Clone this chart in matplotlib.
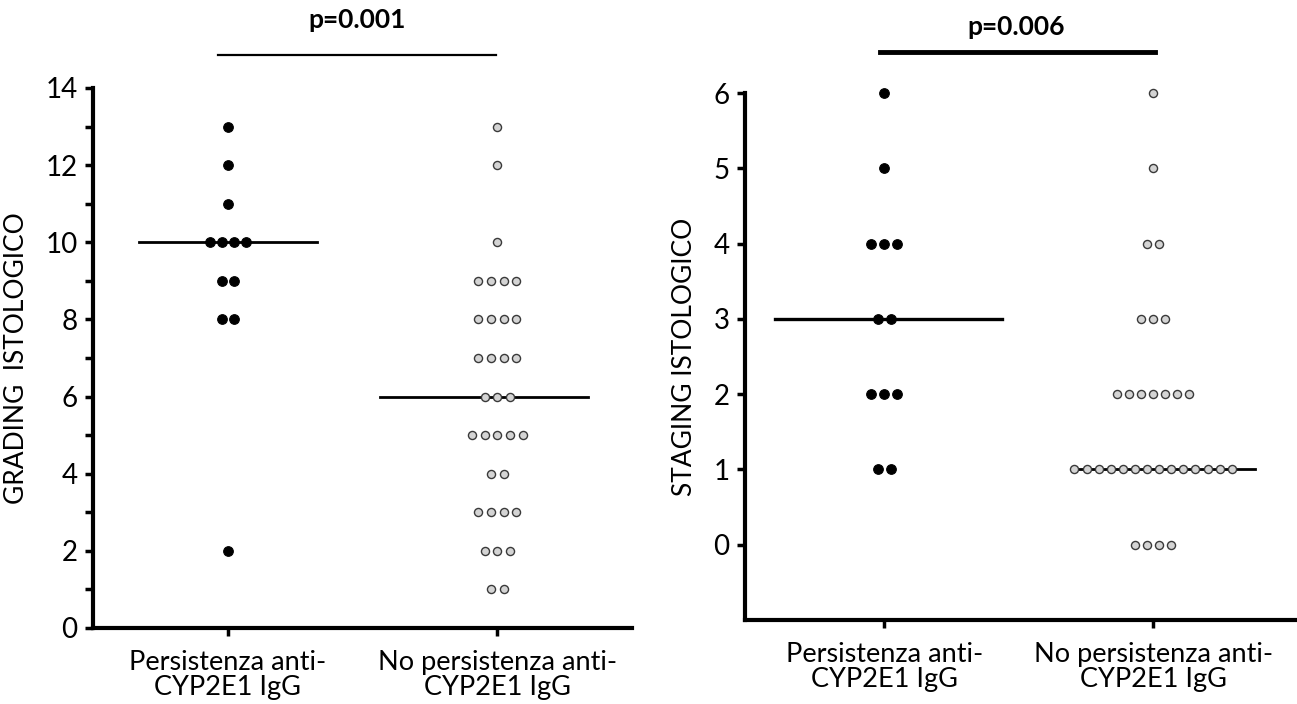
import matplotlib
matplotlib.use("Agg")
import matplotlib.pyplot as plt
import numpy as np

plt.rcParams['font.family'] = ['Lato', 'DejaVu Sans']

categories = ["Persistenza anti-\nCYP2E1 IgG", "No persistenza anti-\nCYP2E1 IgG"]

# Grading: value -> count
grading_pers_vals = [13, 12, 11, 10, 9, 8, 2]
grading_pers_cnt = [1, 1, 1, 4, 2, 2, 1]
grading_nopers_vals = [13, 12, 10, 9, 8, 7, 6, 5, 4, 3, 2, 1]
grading_nopers_cnt = [1, 1, 1, 4, 4, 4, 3, 5, 2, 4, 3, 2]
grading_medians = [10, 6]
grading_p = "p=0.001"

staging_pers_vals = [6, 5, 4, 3, 2, 1]
staging_pers_cnt = [1, 1, 3, 2, 3, 2]
staging_nopers_vals = [6, 5, 4, 3, 2, 1, 0]
staging_nopers_cnt = [1, 1, 2, 3, 7, 14, 4]
staging_medians = [3, 1]
staging_p = "p=0.006"

W, H = 1297, 704
fig = plt.figure(figsize=(W / 100, H / 100), dpi=100)

def px_axes(x0, x1, ytop, ybot):
    return fig.add_axes([x0 / W, (H - ybot) / H, (x1 - x0) / W, (ybot - ytop) / H])

ax1 = px_axes(93, 632, 88, 628)
ax2 = px_axes(745, 1297, 93, 620)

filled = dict(marker='o', s=48, facecolor='black', edgecolor='black', linewidths=0.8,
              zorder=3, clip_on=False)
hollow = dict(marker='o', s=34, facecolor='#d4d4d4', edgecolor='#3a3a3a', linewidths=1.0,
              zorder=3, clip_on=False)

def swarm(ax, xc, vals, cnts, spacing, style):
    xs, ys = [], []
    for v, c in zip(vals, cnts):
        for i in range(c):
            xs.append(xc + (i - (c - 1) / 2) * spacing)
            ys.append(v)
    ax.scatter(xs, ys, **style)

def style_axes(ax):
    for s in ['top', 'right']:
        ax.spines[s].set_visible(False)
    for s in ['left', 'bottom']:
        ax.spines[s].set_linewidth(3)
    ax.tick_params(axis='both', which='both', direction='out', width=2.5, length=6,
                   labelsize=20, pad=5)
    ax.tick_params(axis='x', labelsize=19.5, pad=10)
    ax.set_xticks([0, 1])
    ax.set_xticklabels(categories, linespacing=1.0)

# ---- left panel: grading
swarm(ax1, 0, grading_pers_vals, grading_pers_cnt, 0.044, filled)
swarm(ax1, 1, grading_nopers_vals, grading_nopers_cnt, 0.047, hollow)
ax1.plot([-0.33, 0.33], [grading_medians[0]] * 2, color='black', lw=2, zorder=2)
ax1.plot([1 - 0.435, 1 + 0.335], [grading_medians[1]] * 2, color='black', lw=2, zorder=2)
ax1.set_xlim(-0.5, 1.5)
ax1.set_ylim(0, 14)
ax1.set_yticks(np.arange(0, 15, 2))
ax1.set_yticks(np.arange(1, 14, 2), minor=True)
style_axes(ax1)
ax1.set_ylabel("GRADING  ISTOLOGICO", fontsize=19, labelpad=12)
ax1.plot([-0.037, 0.996], [14.86, 14.86], color='black', lw=1.6, clip_on=False)
ax1.text(0.48, 15.75, grading_p, ha='center', va='center', fontsize=19, fontweight='bold')

# ---- right panel: staging
swarm(ax2, 0, staging_pers_vals, staging_pers_cnt, 0.048, filled)
swarm(ax2, 1, staging_nopers_vals, staging_nopers_cnt, 0.045, hollow)
ax2.plot([-0.405, 0.44], [staging_medians[0]] * 2, color='black', lw=2.4, zorder=2)
ax2.plot([1 - 0.29, 1 + 0.38], [staging_medians[1]] * 2, color='black', lw=2, zorder=2)
ax2.set_xlim(-0.517, 1.535)
ax2.set_ylim(-1, 6)
ax2.set_yticks(np.arange(0, 7, 1))
style_axes(ax2)
ax2.set_ylabel("STAGING ISTOLOGICO", fontsize=19, labelpad=12)
ax2.plot([-0.015, 1.007], [6.55, 6.55], color='black', lw=3.5, clip_on=False)
ax2.text(0.49, 6.88, staging_p, ha='center', va='center', fontsize=19, fontweight='bold')

fig.savefig("out.png", dpi=100)
